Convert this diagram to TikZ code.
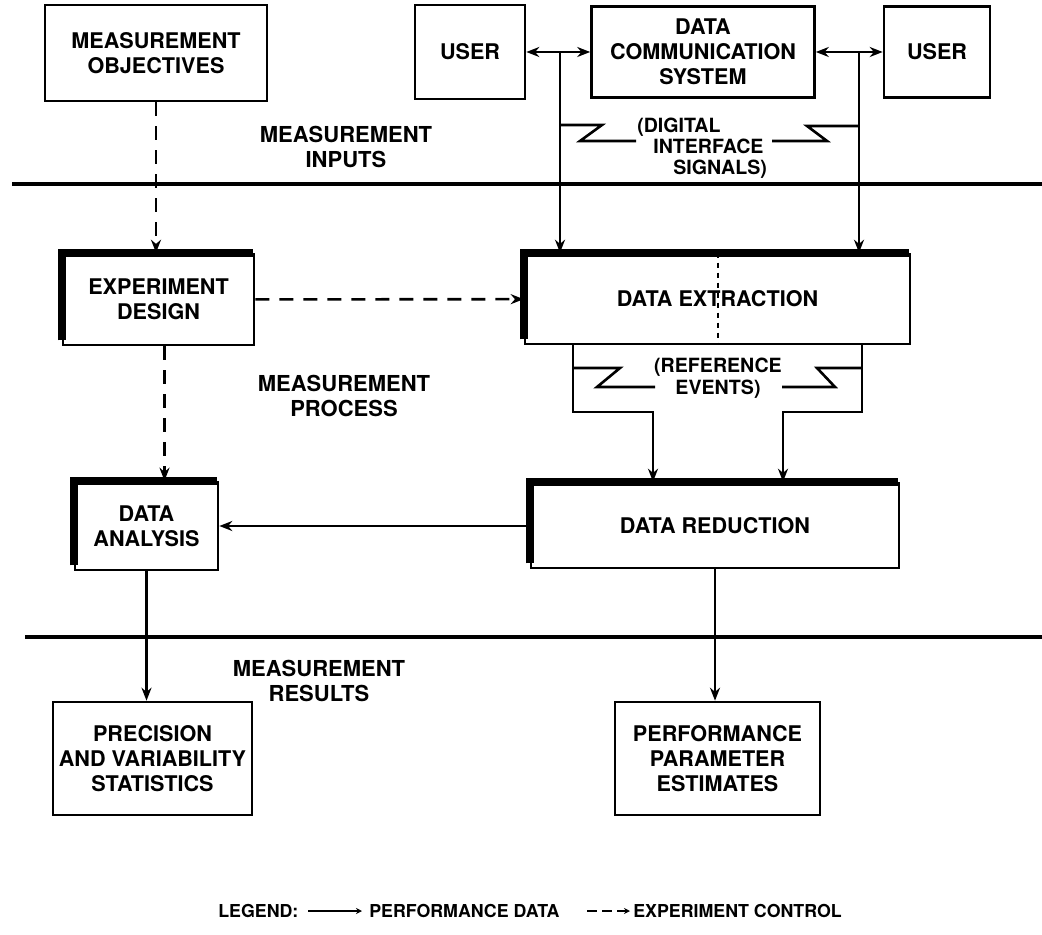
\documentclass[tikz,border=0pt]{standalone}
\usepackage{fontspec}
\setmainfont{TeX Gyre Heros}
\usetikzlibrary{arrows.meta}

\begin{document}
\begin{tikzpicture}[x=0.5pt,y=-0.5pt,line width=1.3pt,
 >={Stealth[length=6.5pt,width=5pt]},
 box/.style={draw,inner sep=0pt,align=center,font=\fontsize{10.8}{12.5}\selectfont\bfseries},
 lbl/.style={align=center,inner sep=0pt,font=\fontsize{11}{12.5}\selectfont\bfseries},
 note/.style={align=left,inner sep=0pt,font=\fontsize{9.8}{10.4}\selectfont\bfseries},
 legtext/.style={anchor=west,inner sep=0pt,font=\fontsize{8.9}{11}\selectfont\bfseries},
 ctrl/.style={dash pattern=on 7pt off 5pt},
 sep/.style={line width=1.6pt}]
\useasboundingbox (0,0) rectangle (1042,935);

\node[box,minimum width=111pt,minimum height=48pt] (obj) at (156,53) {MEASUREMENT\\OBJECTIVES};
\node[box,minimum width=55pt,minimum height=47pt] (userL) at (470,52) {USER};
\node[box,minimum width=111.5pt,minimum height=45.5pt] (dcs) at (703,52) {DATA\\COMMUNICATION\\SYSTEM};
\node[box,minimum width=53pt,minimum height=45.5pt] (userR) at (937,52) {USER};
\node[box,minimum width=95.5pt,minimum height=45.5pt] (design) at (158.5,299.5) {EXPERIMENT\\DESIGN};
\node[box,minimum width=192.5pt,minimum height=45pt] (extract) at (717.5,299) {DATA EXTRACTION};
\node[box,minimum width=71.5pt,minimum height=44pt] (analysis) at (146.5,526) {DATA\\ANALYSIS};
\node[box,minimum width=184pt,minimum height=42.5pt] (reduce) at (715,525.5) {DATA REDUCTION};
\node[box,minimum width=99.5pt,minimum height=56.5pt] (prec) at (152.5,758.5) {PRECISION\\AND VARIABILITY\\STATISTICS};
\node[box,minimum width=102.5pt,minimum height=56.5pt] (perf) at (717.5,758.5) {PERFORMANCE\\PARAMETER\\ESTIMATES};

\foreach \n in {design,extract,analysis,reduce}
 \draw[line width=4pt] ([yshift=3pt]\n.south west) -- (\n.north west) -- ([xshift=-1pt]\n.north east);
\draw[line width=1pt,dash pattern=on 2.5pt off 2.5pt] (extract.north) -- (extract.south);

\node[lbl] (inputs) at (346,147) {MEASUREMENT\\INPUTS};
\node[lbl] (process) at (344,396) {MEASUREMENT\\PROCESS};
\node[lbl] (results) at (319,681) {MEASUREMENT\\RESULTS};

\draw[sep] (12,184) -- (1042,184);
\draw[sep] (25,637) -- (1042,637);

\draw[<->] (userL) -- (dcs);
\draw[<->] (dcs) -- (userR);
\coordinate (tapL) at (560,52);
\coordinate (tapR) at (859,52);
\draw[->] (tapL) -- (tapL |- extract.north);
\draw[->] (tapR) -- (tapR |- extract.north);

\node[note,anchor=north west] (digital) at (636,117) {(DIGITAL\\\hspace{8pt}INTERFACE\\\hspace{18pt}SIGNALS)};
\draw (tapL |- 0,125) -- (602,125) -- (580,141) -- (digital.west |- 0,141);
\draw (772,141) -- (827,141) -- (807,126) -- (tapR |- 0,126);

\draw[->,ctrl] (obj.south) -- (obj.south |- design.north);
\draw[->,ctrl] (design) -- (extract);
\draw[->,ctrl] ([xshift=3pt]design.south) -- ([xshift=3pt]design.south |- analysis.north);

\coordinate (evL) at (573,412);
\coordinate (evR) at (862,412);
\draw[->] (evL |- extract.south) -- (evL) -- (653,412) -- (653,412 |- reduce.north);
\draw[->] (evR |- extract.south) -- (evR) -- (783,412) -- (783,412 |- reduce.north);
\node[lbl,font=\fontsize{9.8}{10.8}\selectfont\bfseries] (events) at (718,378) {(REFERENCE\\EVENTS)};
\draw (evL |- 0,368) -- (620,368) -- (597,387) -- (655,387);
\draw (782,387) -- (835,387) -- (817,368) -- (evR |- 0,368);

\draw[->] (reduce.west |- analysis.east) -- (analysis.east);
\draw[->] (analysis.south) -- (analysis.south |- prec.north);
\draw[->] (reduce.south) -- (reduce.south |- perf.north);

\node[legtext] (legend) at (217,911) {LEGEND:};
\node[legtext] (legdata) at (368,911) {PERFORMANCE DATA};
\node[legtext] (legctrl) at (632,911) {EXPERIMENT CONTROL};
\coordinate (legA) at (308,911);
\coordinate (legB) at (587,911);
\draw[line width=1.2pt,-{Stealth[length=3pt,width=3pt]}] (legA) -- ([xshift=-3pt]legdata.west);
\draw[line width=1.2pt,dash pattern=on 5pt off 2.5pt,-{Stealth[length=3pt,width=3pt]}] (legB) -- ([xshift=-1pt]legctrl.west);
\end{tikzpicture}
\end{document}
